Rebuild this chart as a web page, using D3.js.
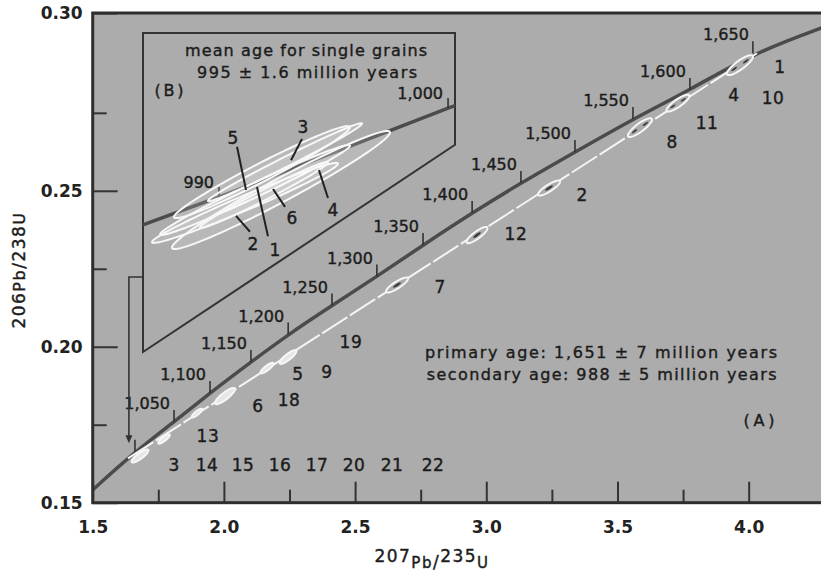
<!DOCTYPE html>
<html>
<head>
<meta charset="utf-8">
<script src="https://cdn.jsdelivr.net/npm/d3@7"></script>
<style>
  body { margin: 0; background: #fff; }
  text { font-family: "DejaVu Sans", Verdana, sans-serif; fill: #1c1c1c; stroke: #1c1c1c; stroke-width: 0.4px; }
  .axis text { font-weight: bold; font-size: 17px; fill: #222; stroke: none; }
  .axis line { stroke: #333; stroke-width: 2; }
  .axis path { display: none; }
</style>
</head>
<body>
<div id="chart-area"></div>
<script>
//============================DATA============================
// axis ticks
var xTickLabels = ["1.5", "2.0", "2.5", "3.0", "3.5", "4.0"];
var xMajorTicks = [1.5, 2.0, 2.5, 3.0, 3.5, 4.0];
var xMinorTicks = [1.75, 2.25, 2.75, 3.25, 3.75];
var yTickLabels = ["0.15", "0.20", "0.25", "0.30"];
var yMajorTicks = [0.15, 0.20, 0.25];
var yMinorTicks = [0.175, 0.225, 0.275];

// concordia curve at its age ticks (Ma); 0 = no tick
var concAge   = [0, 1000, 1050, 1100, 1150, 1200, 1250, 1300, 1350, 1400, 1450, 1500, 1550, 1600, 1650, 0];
var concLabel = ["", "", "1,050", "1,100", "1,150", "1,200", "1,250", "1,300", "1,350", "1,400", "1,450", "1,500", "1,550", "1,600", "1,650", ""];
var concX = [1.500, 1.661, 1.810, 1.947, 2.103, 2.245, 2.412, 2.583, 2.759, 2.946, 3.132, 3.338, 3.559, 3.776, 4.016, 4.300];
var concY = [0.1541, 0.1663, 0.1759, 0.1852, 0.1951, 0.2039, 0.2132, 0.2225, 0.2326, 0.2429, 0.2525, 0.2624, 0.2730, 0.2823, 0.2941, 0.3029];

// discordia (lower and upper intercept)
var discX = [1.6345, 4.0316];
var discY = [0.1642, 0.2941];

// analysed spots along the discordia: centre, half extents, number of dark cores
var spotX  = [3.9668, 3.7306, 3.5857, 3.2390, 2.9645, 2.6597, 2.2443, 2.1642, 2.0042, 1.8975, 1.7717, 1.6803];
var spotY  = [0.29029, 0.27811, 0.27026, 0.25087, 0.23580, 0.21978, 0.19670, 0.19317, 0.18420, 0.17875, 0.17042, 0.16497];
var spotSx = [0.0495, 0.0438, 0.0457, 0.0419, 0.0400, 0.0419, 0.032, 0.025, 0.038, 0.020, 0.022, 0.032];
var spotSy = [0.0032, 0.0027, 0.0030, 0.0024, 0.0026, 0.0024, 0.0022, 0.0017, 0.0026, 0.0014, 0.0015, 0.0021];
var spotCores = [2, 2, 2, 1, 1, 1, 0, 0, 0, 0, 0, 0];
var spotRho = 0.85;

// sample numbers
var sampleLabels = ["1", "4", "10", "11", "8", "2", "12", "7", "19", "5", "9", "18", "6", "13", "3", "14", "15", "16", "17", "20", "21", "22"];
var sampleX = [4.119, 3.944, 4.093, 3.841, 3.708, 3.365, 3.113, 2.824, 2.484, 2.282, 2.393, 2.248, 2.130, 1.939, 1.810, 1.936, 2.073, 2.214, 2.355, 2.496, 2.641, 2.797];
var sampleY = [0.2896, 0.2807, 0.2797, 0.2717, 0.2656, 0.2486, 0.2361, 0.2191, 0.2015, 0.1913, 0.1919, 0.1829, 0.1810, 0.1714, 0.1621, 0.1621, 0.1621, 0.1621, 0.1621, 0.1621, 0.1621, 0.1621];

// inset (B): concordia near 1,000 Ma and the single grains
var insetConcX = [1.6406, 1.64947, 1.67619, 1.6770];
var insetConcY = [0.16541, 0.16597, 0.16776, 0.16781];
var insetConcLabel = ["", "990", "1,000", ""];
var grainNames = ["1", "2", "3", "4", "5", "6"];
var grainX   = [1.65367, 1.65250, 1.65717, 1.65670, 1.65448, 1.65472];
var grainY   = [0.16611, 0.16585, 0.16667, 0.16611, 0.16647, 0.16601];
var grainSx  = [0.011084, 0.010851, 0.008984, 0.012717, 0.010267, 0.007467];
var grainSy  = [0.000906, 0.000805, 0.000785, 0.001187, 0.000926, 0.000664];
var grainRho = [0.985, 0.98, 0.99, 0.975, 0.975, 0.985];
// grain label positions and the leader lines to the ellipses
var grainLabelX = [1.65600, 1.65343, 1.65927, 1.66277, 1.65110, 1.65798];
var grainLabelY = [0.16490, 0.16502, 0.16738, 0.16571, 0.16716, 0.16555];
var leaderX1 = [1.65518, 1.65308, 1.65915, 1.66218, 1.65157, 1.65717];
var leaderY1 = [0.16518, 0.16527, 0.16714, 0.16595, 0.16698, 0.16577];
var leaderX2 = [1.65390, 1.65145, 1.65787, 1.66113, 1.65262, 1.65577];
var leaderY2 = [0.16617, 0.16559, 0.16671, 0.16651, 0.16611, 0.16613];

//============================SCALES============================
var width = 821, height = 575;
var panelFill = "#acacac";

var x = d3.scaleLinear().domain([1.5, 4.3]).range([92.7, 827.4]);
var y = d3.scaleLinear().domain([0.15, 0.307]).range([502.7, 13]);

// inset frame: top-right corner cut along the diagonal down to the lower-left
var ix = d3.scaleLinear().domain([1.6406, 1.6770]).range([143, 455]);
var iy = d3.scaleLinear().domain([0.16285, 0.16927]).range([352, 33]);
var insetCutY = 0.16702;

var svg = d3.select("#chart-area")
    .append("svg")
    .attr("width", width)
    .attr("height", height);

var defs = svg.append("defs");
defs.append("clipPath").attr("id", "plot-clip")
  .append("rect")
    .attr("x", x(1.5)).attr("y", y(0.307))
    .attr("width", width - x(1.5)).attr("height", y(0.15) - y(0.307));

// parametric error ellipse through the scales
function ellipsePath(cx, cy, sx, sy, rho, xs, ys, k) {
  var pts = d3.range(0, 97).map(function(i) {
    var t = i / 96 * 2 * Math.PI;
    return [xs(cx + k * sx * Math.cos(t)),
            ys(cy + k * sy * (rho * Math.cos(t) + Math.sqrt(1 - rho * rho) * Math.sin(t)))];
  });
  return d3.line()(pts) + "Z";
}

// panel
svg.append("rect")
  .attr("x", x(1.5)).attr("y", y(0.307))
  .attr("width", width - x(1.5) + 10).attr("height", y(0.15) - y(0.307))
  .attr("fill", panelFill);

var plot = svg.append("g").attr("clip-path", "url(#plot-clip)");

//============================AXES============================
var xAxisGroup = svg.append("g").attr("class", "axis")
    .attr("transform", "translate(0," + y(0.15) + ")")
    .call(d3.axisBottom(x).tickValues(xMajorTicks)
      .tickFormat(function(d, i) { return xTickLabels[i]; })
      .tickSize(-21).tickPadding(18.5));
xAxisGroup.selectAll("text").attr("dy", "0.71em");

svg.append("g").attr("class", "axis")
    .attr("transform", "translate(0," + y(0.15) + ")")
    .call(d3.axisBottom(x).tickValues(xMinorTicks).tickFormat("").tickSize(-13));

svg.append("g").attr("class", "axis")
    .attr("transform", "translate(" + x(1.5) + ",0)")
    .call(d3.axisLeft(y).tickValues(yMajorTicks.concat([y.domain()[1]]))   // "0.30" sits on the top edge
      .tickFormat(function(d, i) { return yTickLabels[i]; })
      .tickSize(-25).tickPadding(10));

svg.append("g").attr("class", "axis")
    .attr("transform", "translate(" + x(1.5) + ",0)")
    .call(d3.axisLeft(y).tickValues(yMinorTicks).tickFormat("").tickSize(-14));

//============================MAIN CONCORDIA============================
var idx = d3.range(concX.length);

plot.append("path")
  .datum(idx)
  .attr("fill", "none")
  .attr("stroke", "#4b4b4b")
  .attr("stroke-width", 3.5)
  .attr("d", d3.line().curve(d3.curveBasis)
    .x(function(i) { return x(concX[i]); })
    .y(function(i) { return y(concY[i]); }));

var tickIdx = idx.filter(function(i) { return concAge[i] > 0; });
plot.selectAll(".age-tick")
  .data(tickIdx).enter().append("line")
    .attr("x1", function(i) { return x(concX[i]); })
    .attr("x2", function(i) { return x(concX[i]); })
    .attr("y1", function(i) { return y(concY[i]); })
    .attr("y2", function(i) { return y(concY[i]) - 12; })
    .attr("stroke", "#333").attr("stroke-width", 1.6);

svg.selectAll(".age-label")
  .data(idx.filter(function(i) { return concLabel[i] !== ""; })).enter().append("text")
    .attr("x", function(i) { return x(concX[i]) - 4; })
    .attr("y", function(i) { return y(concY[i]) - 13; })
    .attr("text-anchor", "end")
    .style("font-size", "16px")
    .text(function(i) { return concLabel[i]; });

//============================DISCORDIA============================
plot.append("line")
  .attr("x1", x(discX[0])).attr("y1", y(discY[0]))
  .attr("x2", x(discX[1])).attr("y2", y(discY[1]))
  .attr("stroke", "#f4f4f4").attr("stroke-width", 2)
  .attr("stroke-dasharray", "30 3");

var spotIdx = d3.range(spotX.length);
plot.selectAll(".spot")
  .data(spotIdx).enter().append("path")
    .attr("d", function(i) { return ellipsePath(spotX[i], spotY[i], spotSx[i], spotSy[i], spotRho, x, y, 1); })
    .attr("fill", function(i) { return spotCores[i] > 0 ? panelFill : "#e6e6e6"; })
    .attr("stroke", "#f6f6f6").attr("stroke-width", 2);

// dark cores inside the larger spots
spotIdx.forEach(function(i) {
  var n = spotCores[i];
  for (let j = 0; j < n; ++j) {
    var off = n === 1 ? 0 : (j === 0 ? -0.45 : 0.45);
    plot.append("path")
      .attr("d", ellipsePath(spotX[i] + off * spotSx[i], spotY[i] + off * spotSy[i] * spotRho,
                             spotSx[i], spotSy[i], spotRho, x, y, n === 1 ? 0.35 : 0.22))
      .attr("fill", "#3a3a3a");
  }
});

// sample numbers
svg.selectAll(".sample")
  .data(d3.range(sampleLabels.length)).enter().append("text")
    .attr("x", function(i) { return x(sampleX[i]); })
    .attr("y", function(i) { return y(sampleY[i]); })
    .attr("dy", "0.36em")
    .attr("text-anchor", "middle")
    .style("font-size", "17px")
    .style("letter-spacing", "0.5px")
    .text(function(i) { return sampleLabels[i]; });

// age summary
svg.append("text")
  .attr("x", x(2.7664)).attr("y", y(0.19638))
  .attr("textLength", 352).attr("lengthAdjust", "spacing")
  .style("font-size", "16px")
  .text("primary age:  1,651 \u00b1 7 million years");
svg.append("text")
  .attr("x", x(2.7729)).attr("y", y(0.18933))
  .attr("textLength", 350).attr("lengthAdjust", "spacing")
  .style("font-size", "16px")
  .text("secondary age:  988 \u00b1 5 million years");
svg.append("text")
  .attr("x", x(4.0394)).attr("y", y(0.17458))
  .attr("text-anchor", "middle")
  .attr("textLength", 31).attr("lengthAdjust", "spacing")
  .style("font-size", "16px")
  .text("(A)");

//============================INSET (B)============================
var insetPts = [
  [ix.range()[0], iy.range()[1]],
  [ix.range()[1], iy.range()[1]],
  [ix.range()[1], iy(insetCutY)],
  [ix.range()[0], iy.range()[0]]
];
defs.append("clipPath").attr("id", "inset-clip")
  .append("polygon").attr("points", insetPts.map(function(p) { return p.join(","); }).join(" "));

svg.append("polygon")
  .attr("points", insetPts.map(function(p) { return p.join(","); }).join(" "))
  .attr("fill", panelFill)
  .attr("stroke", "#333").attr("stroke-width", 2);

var inset = svg.append("g").attr("clip-path", "url(#inset-clip)");

var iIdx = d3.range(insetConcX.length);
inset.append("path")
  .datum(iIdx)
  .attr("fill", "none")
  .attr("stroke", "#4b4b4b")
  .attr("stroke-width", 3.5)
  .attr("d", d3.line()
    .x(function(i) { return ix(insetConcX[i]); })
    .y(function(i) { return iy(insetConcY[i]); }));

inset.selectAll(".iage-tick")
  .data(iIdx.filter(function(i) { return insetConcLabel[i] !== ""; })).enter().append("line")
    .attr("x1", function(i) { return ix(insetConcX[i]); })
    .attr("x2", function(i) { return ix(insetConcX[i]); })
    .attr("y1", function(i) { return iy(insetConcY[i]); })
    .attr("y2", function(i) { return iy(insetConcY[i]) - 10; })
    .attr("stroke", "#333").attr("stroke-width", 1.6);

svg.selectAll(".iage-label")
  .data(iIdx.filter(function(i) { return insetConcLabel[i] !== ""; })).enter().append("text")
    .attr("x", function(i) { return ix(insetConcX[i]) - 5; })
    .attr("y", function(i) { return iy(insetConcY[i]) - 9; })
    .attr("text-anchor", "end")
    .style("font-size", "16px")
    .text(function(i) { return insetConcLabel[i]; });

var gIdx = d3.range(grainX.length);
inset.selectAll(".grain")
  .data(gIdx).enter().append("path")
    .attr("d", function(i) { return ellipsePath(grainX[i], grainY[i], grainSx[i], grainSy[i], grainRho[i], ix, iy, 1); })
    .attr("fill", "rgba(255,255,255,0.15)")
    .attr("stroke", "#f7f7f7").attr("stroke-width", 2);

inset.selectAll(".leader")
  .data(gIdx).enter().append("line")
    .attr("x1", function(i) { return ix(leaderX1[i]); })
    .attr("y1", function(i) { return iy(leaderY1[i]); })
    .attr("x2", function(i) { return ix(leaderX2[i]); })
    .attr("y2", function(i) { return iy(leaderY2[i]); })
    .attr("stroke", "#222").attr("stroke-width", 2);

svg.selectAll(".grain-label")
  .data(gIdx).enter().append("text")
    .attr("x", function(i) { return ix(grainLabelX[i]); })
    .attr("y", function(i) { return iy(grainLabelY[i]); })
    .attr("dy", "0.36em")
    .attr("text-anchor", "middle")
    .style("font-size", "17px")
    .text(function(i) { return grainNames[i]; });

svg.append("text")
  .attr("x", ix(1.65962)).attr("y", iy(0.16893))
  .attr("dy", "0.36em").attr("text-anchor", "middle")
  .attr("textLength", 242).attr("lengthAdjust", "spacing")
  .style("font-size", "16px")
  .text("mean age for single grains");
svg.append("text")
  .attr("x", ix(1.65974)).attr("y", iy(0.16849))
  .attr("dy", "0.36em").attr("text-anchor", "middle")
  .attr("textLength", 220).attr("lengthAdjust", "spacing")
  .style("font-size", "16px")
  .text("995 \u00b1 1.6 million years");
svg.append("text")
  .attr("x", ix(1.64362)).attr("y", iy(0.16811))
  .attr("dy", "0.36em").attr("text-anchor", "middle")
  .attr("textLength", 29).attr("lengthAdjust", "spacing")
  .style("font-size", "16px")
  .text("(B)");

// connector from the inset down to the 1,000 Ma point on the main curve
var arrowX = x(1.638), arrowTipY = y(0.1691), linkY = iy(0.16436);
svg.append("path")
  .attr("d", "M" + ix.range()[0] + "," + linkY + "H" + arrowX + "V" + (arrowTipY - 6))
  .attr("fill", "none").attr("stroke", "#333").attr("stroke-width", 1.6);
svg.append("path")
  .attr("d", "M" + (arrowX - 3.5) + "," + (arrowTipY - 8) + "L" + (arrowX + 3.5) + "," + (arrowTipY - 8) + "L" + arrowX + "," + arrowTipY + "Z")
  .attr("fill", "#333");

// frame (right side runs off the page)
svg.append("rect")
  .attr("x", x(1.5)).attr("y", y(0.307))
  .attr("width", width - x(1.5) + 20).attr("height", y(0.15) - y(0.307))
  .attr("fill", "none").attr("stroke", "#2e2e2e").attr("stroke-width", 3);

//============================AXIS TITLES============================
var xTitle = svg.append("text")
  .attr("x", 432).attr("y", 562)
  .attr("text-anchor", "middle")
  .style("font-size", "17px")
  .style("letter-spacing", "1.5px");
xTitle.append("tspan").text("207");
xTitle.append("tspan").attr("dy", 6).style("font-size", "15px").text("Pb");
xTitle.append("tspan").text("/");
xTitle.append("tspan").attr("dy", -6).text("235");
xTitle.append("tspan").attr("dy", 6).style("font-size", "15px").text("U");

var yTitle = svg.append("text")
  .attr("transform", "translate(25,270) rotate(-90)")
  .attr("text-anchor", "middle")
  .style("font-size", "17px")
  .style("letter-spacing", "1.5px");
yTitle.append("tspan").text("206");
yTitle.append("tspan").style("font-size", "16px").text("Pb");
yTitle.append("tspan").text("/238");
yTitle.append("tspan").style("font-size", "16px").text("U");
</script>
</body>
</html>
